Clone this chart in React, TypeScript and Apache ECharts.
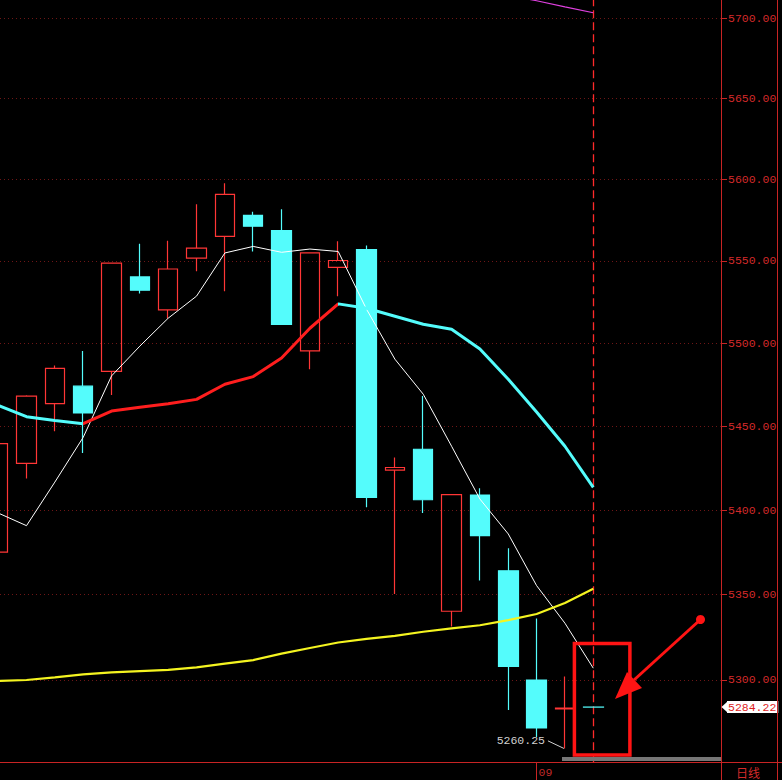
import React, { useEffect, useRef } from 'react';
import * as echarts from 'echarts';

// ---------- data ----------
const xLabels = ['', '', '', '', '', '', '', '', '', '', '', '', '', '', '', '', '', '', '', '09', '', '', '', '', '', ''];
const monthIndex = 19;

const opens = [5375.0, 5427.7, 5463.5, 5474.0, 5482.9, 5540.2, 5520.1, 5551.7, 5565.0, 5577.8, 5568.5, 5495.3, 5546.0, 5556.8, 5423.7, 5436.2, 5340.2, 5408.9, 5364.0, 5300.0, 5283.2, 5284.25];
const closes = [5439.6, 5468.1, 5484.7, 5457.9, 5548.6, 5532.1, 5545.0, 5557.8, 5590.7, 5571.2, 5511.4, 5554.8, 5550.2, 5407.5, 5425.3, 5406.1, 5409.1, 5384.8, 5307.9, 5272.1, 5283.6, 5284.22];
const lows = [5370.0, 5418.8, 5447.0, 5434.0, 5468.7, 5530.1, 5514.9, 5543.6, 5531.5, 5555.7, 5511.0, 5484.3, 5528.5, 5401.6, 5350.4, 5398.2, 5331.3, 5358.3, 5282.5, 5266.8, 5260.25, 5284.22];
const highs = [5445.0, 5468.5, 5486.5, 5495.2, 5549.0, 5560.5, 5562.2, 5584.6, 5597.5, 5580.0, 5581.5, 5555.0, 5561.9, 5559.3, 5431.3, 5468.1, 5409.5, 5412.9, 5377.4, 5336.0, 5302.0, 5284.25];

const ma5 = [5398.2, 5390.7, 5416.6, 5443.3, 5480.2, 5498.2, 5515.1, 5528.5, 5554.8, 5558.8, 5555.2, 5557.2, 5555.7, 5520.5, 5490.3, 5469.2, 5438.0, 5406.5, 5385.8, 5355.3, 5333.2, 5306.9];
const maTrend = [5462.5, 5455.7, 5453.4, 5451.5, 5459.1, 5461.3, 5463.4, 5466.1, 5475.2, 5479.8, 5491.0, 5509.0, 5523.8, 5521.1, 5516.3, 5511.4, 5508.4, 5496.4, 5478.2, 5458.5, 5438.0, 5413.5];
const maLong = [5299.4, 5300.0, 5301.5, 5303.3, 5304.4, 5305.2, 5305.9, 5307.4, 5309.5, 5311.6, 5315.4, 5318.7, 5321.9, 5324.0, 5325.8, 5328.2, 5330.2, 5332.0, 5335.0, 5338.6, 5345.1, 5353.4];
const maTop = [null, null, null, null, null, null, null, null, null, null, null, null, null, null, null, null, null, null, 5714.4, 5711.0, 5707.2, 5703.5];

const yTicks = [5300, 5350, 5400, 5450, 5500, 5550, 5600, 5650, 5700];
const yMin = 5252.25;
const yMax = 5711.48;
const lastPrice = 5284.22;
const lastIndex = 21;
const lowestIndex = 20;
const lowestValue = 5260.25;
const trendTurnUp = 3;
const trendTurnDown = 12;

// ---------- styles ----------
const MONO = '"Liberation Mono", "DejaVu Sans Mono", monospace';
const AXIS_RED = '#c82424';
const LABEL_RED = '#d42a2a';
const SPLIT_RED = '#6e1616';
const UP_RED = '#ff3636';
const DOWN_CYAN = '#54fcfc';
const ARROW_RED = '#ff1414';
const OFF = 16; // chart canvas starts 16px left of the page so the first candle is cut

export default function App() {
  const ref = useRef<HTMLDivElement>(null);

  useEffect(() => {
    document.body.style.margin = '0';
    document.body.style.background = '#000';
    document.body.style.overflow = 'hidden';
    const chart = echarts.init(ref.current as HTMLDivElement, null, { renderer: 'svg', width: 782 + OFF, height: 780 });

    const candleData = opens.map((o, i) => [o, closes[i], lows[i], highs[i]]);

    const markData: any[] = [];
    yTicks.forEach((v) => {
      markData.push({ yAxis: v, lineStyle: { type: [1, 3], color: SPLIT_RED, width: 1 }, label: { show: false } });
      markData.push([
        {
          name: v.toFixed(2), yAxis: v, x: 721 + OFF,
          lineStyle: { type: 'solid', color: AXIS_RED, width: 1 },
          label: { show: true, position: 'end', formatter: '{b}', distance: 1, color: LABEL_RED, fontFamily: MONO, fontSize: 11.5 },
        },
        { yAxis: v, x: 727 + OFF },
      ]);
    });
    markData.push({ xAxis: lastIndex, lineStyle: { type: [8, 4], color: '#ff2a2a', width: 1.3 }, label: { show: false } });
    markData.push([
      {
        name: lastPrice.toFixed(2), yAxis: lastPrice, x: 724.5 + OFF,
        symbol: 'triangle', symbolSize: [11, 6],
        lineStyle: { type: 'solid', color: '#ffffff', width: 1 },
        label: { show: true, position: 'end', formatter: '{b}', distance: 0, color: '#e01e1e', backgroundColor: '#ffffff', padding: [1, 2, 0, 1], lineHeight: 11, fontFamily: MONO, fontSize: 11.5 },
      },
      { yAxis: lastPrice, x: 727 + OFF, symbol: 'none' },
    ]);

    const option: any = {
      animation: false,
      backgroundColor: '#000000',
      grid: { left: 0, right: 61.2, top: 0, bottom: 17.7 },
      xAxis: {
        type: 'category',
        data: xLabels,
        boundaryGap: true,
        axisLine: { show: true, onZero: false, lineStyle: { color: AXIS_RED, width: 1 } },
        axisTick: { show: true, alignWithLabel: true, interval: (i: number) => i === monthIndex, length: 18, lineStyle: { color: AXIS_RED } },
        axisLabel: { show: true, interval: (i: number) => i === monthIndex, align: 'left', margin: 4, padding: [0, 0, 0, 2], color: '#c02a2a', fontFamily: MONO, fontSize: 11.5 },
        splitLine: { show: false },
      },
      yAxis: {
        type: 'log',
        logBase: 10,
        position: 'right',
        min: yMin,
        max: yMax,
        axisLine: { show: true, lineStyle: { color: AXIS_RED, width: 1 } },
        axisTick: { show: false },
        axisLabel: { show: false },
        splitLine: { show: false },
      },
      visualMap: [
        {
          show: false,
          type: 'piecewise',
          seriesIndex: 2,
          dimension: 0,
          pieces: [
            { lte: trendTurnUp, color: DOWN_CYAN },
            { gt: trendTurnUp, lte: trendTurnDown, color: '#ff1e1e' },
            { gt: trendTurnDown, color: DOWN_CYAN },
          ],
        },
      ],
      series: [
        {
          type: 'candlestick',
          data: candleData,
          barWidth: 20,
          itemStyle: { color: 'transparent', color0: DOWN_CYAN, borderColor: UP_RED, borderColor0: DOWN_CYAN, borderWidth: 1.2 },
        },
        { type: 'line', data: ma5, showSymbol: false, symbol: 'none', lineStyle: { color: '#ffffff', width: 1 } },
        { type: 'line', data: maTrend, showSymbol: false, symbol: 'none', lineStyle: { width: 3 } },
        {
          type: 'line', data: maLong, showSymbol: false, symbol: 'none', clip: false,
          lineStyle: { color: '#f4f420', width: 2.2 },
          markLine: { silent: true, symbol: ['none', 'none'], animation: false, z: 1, label: { show: false }, data: markData },
        },
        { type: 'line', data: maTop, showSymbol: false, symbol: 'none', lineStyle: { color: '#e040e0', width: 1.2 } },
      ],
    };
    chart.setOption(option);

    const low = chart.convertToPixel({ xAxisIndex: 0, yAxisIndex: 0 }, [lowestIndex, lowestValue]) as number[];
    const txt = (text: string, x: number, y: number, align: string, fill: string, font: string) => ({
      type: 'text', z: 100, silent: true,
      style: { text, x, y, align, textAlign: align, verticalAlign: 'middle', textVerticalAlign: 'middle', fill, font },
    });
    const o = OFF;
    chart.setOption({
      graphic: [
        { type: 'rect', z: 100, silent: true, shape: { x: 562 + o, y: 757, width: 159, height: 4 }, style: { fill: '#767676' } },
        { type: 'line', z: 100, silent: true, shape: { x1: 721 + o, y1: 762.5, x2: 782 + o, y2: 762.5 }, style: { stroke: AXIS_RED, lineWidth: 1 } },
        { type: 'line', z: 100, silent: true, shape: { x1: 721.5 + o, y1: 762, x2: 721.5 + o, y2: 780 }, style: { stroke: AXIS_RED, lineWidth: 1 } },
        { type: 'line', z: 100, silent: true, shape: { x1: 777.5 + o, y1: 0, x2: 777.5 + o, y2: 780 }, style: { stroke: AXIS_RED, lineWidth: 1 } },
        txt('日线', 748 + o, 772, 'center', LABEL_RED, '12px "Noto Sans CJK SC"'),
        { type: 'rect', z: 100, silent: true, shape: { x: 574.4 + o, y: 643.4, width: 55.5, height: 111.5 }, style: { fill: 'none', stroke: ARROW_RED, lineWidth: 3.5 } },
        { type: 'line', z: 100, silent: true, shape: { x1: 700.5 + o, y1: 619.5, x2: 634 + o, y2: 680 }, style: { stroke: ARROW_RED, lineWidth: 3 } },
        { type: 'polygon', z: 100, silent: true, shape: { points: [[615 + o, 699], [627 + o, 672], [642 + o, 688]] }, style: { fill: ARROW_RED } },
        { type: 'circle', z: 100, silent: true, shape: { cx: 700.5 + o, cy: 619.5, r: 4.5 }, style: { fill: ARROW_RED } },
        { type: 'line', z: 100, silent: true, shape: { x1: low[0] - 17, y1: low[1] - 7.6, x2: low[0] - 1, y2: low[1] }, style: { stroke: '#d0d0d0', lineWidth: 1 } },
        txt(lowestValue.toFixed(2), low[0] - 20, low[1] - 7.6, 'right', '#d0d0d0', '11.5px ' + MONO),
      ],
    });

    return () => chart.dispose();
  }, []);

  return (
    <div
      ref={ref}
      style={{ position: 'absolute', left: -OFF, top: 0, width: 782 + OFF, height: 780, background: '#000' }}
    />
  );
}
